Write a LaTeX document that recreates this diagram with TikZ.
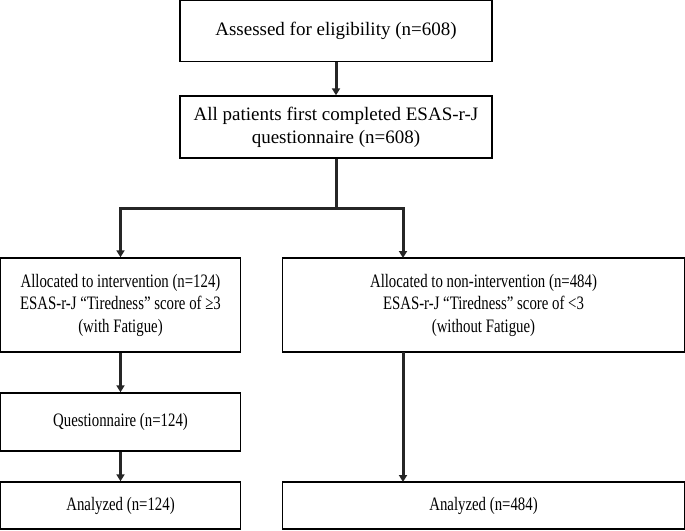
\documentclass[tikz,border=0pt]{standalone}
\usepackage{fontspec}
\setmainfont{Liberation Serif}
\newfontfamily\condfont[FakeStretch=0.78]{Liberation Serif}
\usetikzlibrary{arrows.meta}
\begin{document}
\begin{tikzpicture}[x=1pt,y=-1pt,
  box/.style={draw=black,line width=1.4pt,inner sep=0pt,align=center,font=\fontsize{19}{23}\selectfont},
  cbox/.style={box,font=\condfont\fontsize{19}{22.5}\selectfont},
  conn/.style={line width=3pt,draw=black!85},
  arr/.style={conn,-{Triangle[length=7pt,width=8pt]}}]
\useasboundingbox (0,0) rectangle (685,530);
\node[box,minimum width=312pt,minimum height=61pt] (a) at (336,31) {Assessed for eligibility (n=608)};
\node[box,minimum width=312pt,minimum height=62pt] (b) at (336,127) {All patients first completed ESAS-r-J\\questionnaire (n=608)};
\node[cbox,minimum width=240pt,minimum height=94pt] (c) at (120.5,305) {Allocated to intervention (n=124)\\ESAS-r-J “Tiredness” score of ≥3\\(with Fatigue)};
\node[cbox,minimum width=402pt,minimum height=94pt] (d) at (483.5,305) {Allocated to non-intervention (n=484)\\ESAS-r-J “Tiredness” score of <3\\(without Fatigue)};
\node[cbox,minimum width=240pt,minimum height=58pt] (e) at (120.5,422) {Questionnaire (n=124)};
\node[cbox,minimum width=240pt,minimum height=47pt] (f) at (120.5,505.5) {Analyzed (n=124)};
\node[cbox,minimum width=402pt,minimum height=47pt] (g) at (483.5,505.5) {Analyzed (n=484)};
\coordinate (j) at (336,208);
\coordinate (dtop) at (403,258);
\coordinate (dbot) at (403,352);
\coordinate (gtop) at (403,482);
\draw[arr] (a.south) -- (b.north);
\draw[conn] (b.south) -- (j);
\draw[arr] (j) -| (c.north);
\draw[arr] (j) -| (dtop);
\draw[arr] (c.south) -- (e.north);
\draw[arr] (e.south) -- (f.north);
\draw[arr] (dbot) -- (gtop);
\end{tikzpicture}
\end{document}
